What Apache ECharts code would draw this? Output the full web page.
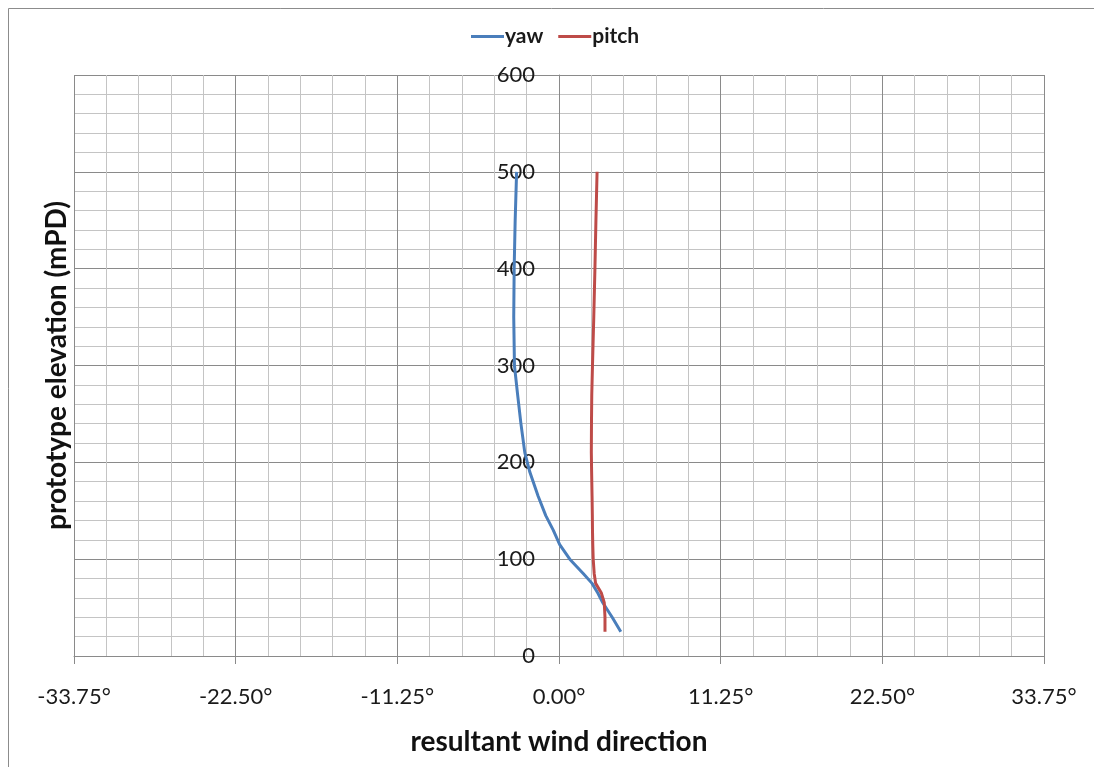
<!DOCTYPE html>
<html>
<head>
<meta charset="utf-8">
<title>resultant wind direction</title>
<script src="https://cdn.jsdelivr.net/npm/echarts@6/dist/echarts.min.js"></script>
<style>
  html, body { margin: 0; padding: 0; background: #ffffff; }
  #chart { width: 1094px; height: 767px; }
</style>
</head>
<body>
<div id="chart"></div>
<script>
// Elevations (mPD) at which the wind direction was sampled
const elevations = [25, 40, 55, 65, 75, 85, 100, 115, 130, 145, 165, 190, 210, 240, 270, 300, 350, 400, 450, 500];
// Resultant wind direction (degrees)
const yaw   = [4.3, 3.7, 3.05, 2.7, 2.3, 1.7, 0.75, 0.05, -0.4, -0.92, -1.45, -2.03, -2.38, -2.65, -2.88, -3.1, -3.15, -3.12, -3.05, -2.95];
const pitch = [3.2, 3.2, 3.15, 2.95, 2.55, 2.45, 2.38, 2.35, 2.33, 2.32, 2.3, 2.27, 2.25, 2.26, 2.28, 2.33, 2.42, 2.5, 2.57, 2.65];
const seriesNames = ['yaw', 'pitch'];

const FONT = 'Lato, "Open Sans", sans-serif';
const majorGrid = '#8a8a8a';
const minorGrid = '#c4c4c4';

const GRID_LEFT = 74;
const GRID_RIGHT = 50;
const X_MIN = -33.75;
const X_MAX = 33.75;
// shift the vertical axis so it crosses the horizontal one at 0°
const plotWidth = 1094 - GRID_LEFT - GRID_RIGHT;
const yAxisShift = plotWidth * (0 - X_MIN) / (X_MAX - X_MIN);

const toPoints = vals => vals.map((v, i) => [v, elevations[i]]);

const chart = echarts.init(document.getElementById('chart'), null, { renderer: 'canvas' });

chart.setOption({
  animation: false,
  backgroundColor: '#ffffff',
  graphic: [{
    type: 'rect',
    shape: { x: 8.5, y: 8.5, width: 1300, height: 1000 },
    style: { fill: 'none', stroke: '#8c8c8c', lineWidth: 1 },
    silent: true,
    z: -1
  }],
  legend: {
    data: seriesNames,
    left: 466,
    top: 21,
    itemWidth: 33,
    itemHeight: 3,
    itemGap: 15,
    icon: 'rect',
    textStyle: { fontFamily: FONT, fontWeight: 'bold', fontSize: 21, color: '#1a1a1a', padding: [0, 0, 0, -4] }
  },
  grid: { left: GRID_LEFT, right: GRID_RIGHT, top: 75, bottom: 111, containLabel: false, outerBoundsMode: 'none' },
  xAxis: {
    type: 'value',
    min: X_MIN,
    max: X_MAX,
    interval: 11.25,
    name: 'resultant wind direction',
    nameLocation: 'middle',
    nameGap: 72,
    nameTextStyle: { fontFamily: FONT, fontWeight: 'bold', fontSize: 28, color: '#111' },
    axisLine: { onZero: false, lineStyle: { color: majorGrid, width: 1 } },
    axisTick: { show: true, length: 8, lineStyle: { color: majorGrid } },
    minorTick: { show: false, splitNumber: 5 },
    splitLine: { show: true, lineStyle: { color: majorGrid, width: 1 } },
    minorSplitLine: { show: true, lineStyle: { color: minorGrid, width: 1 } },
    axisLabel: {
      fontFamily: FONT, fontSize: 22, color: '#1a1a1a', margin: 30,
      formatter: v => v.toFixed(2) + '°'
    }
  },
  yAxis: {
    type: 'value',
    min: 0,
    max: 600,
    interval: 100,
    offset: -yAxisShift,
    name: 'prototype elevation (mPD)',
    nameLocation: 'middle',
    nameGap: 488,
    nameRotate: 90,
    nameTextStyle: { fontFamily: FONT, fontWeight: 'bold', fontSize: 28, color: '#111' },
    axisLine: { show: true, onZero: false, lineStyle: { color: majorGrid, width: 1 } },
    axisTick: { show: false },
    minorTick: { show: false, splitNumber: 5 },
    splitLine: { show: true, lineStyle: { color: majorGrid, width: 1 } },
    minorSplitLine: { show: true, lineStyle: { color: minorGrid, width: 1 } },
    axisLabel: { fontFamily: FONT, fontSize: 22, color: '#1a1a1a', margin: 24 }
  },
  series: [
    {
      name: seriesNames[0],
      type: 'line',
      data: toPoints(yaw),
      showSymbol: false,
      symbol: 'none',
      smooth: false,
      color: '#4a7ebb',
      lineStyle: { width: 3, color: '#4a7ebb' },
      z: 3
    },
    {
      name: seriesNames[1],
      type: 'line',
      data: toPoints(pitch),
      showSymbol: false,
      symbol: 'none',
      smooth: false,
      color: '#be4b48',
      lineStyle: { width: 3, color: '#be4b48' },
      z: 4
    }
  ]
});
</script>
</body>
</html>
